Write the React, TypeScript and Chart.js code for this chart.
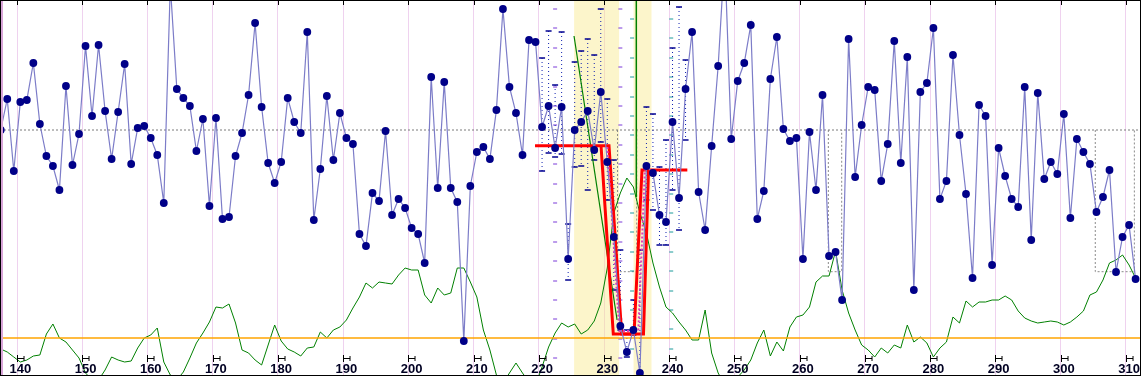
import React, { useEffect, useRef } from 'react';
import { Chart, registerables } from 'chart.js';

Chart.register(...registerables);

// ---------- data ----------
const FIRST_X = 137;
const blueValues = [
  130, 99, 171,
  102, 100, 63, 124, 156, 166, 190, 86, 165, 134,
  46, 116, 45, 111, 159, 112, 64, 164, 128, 126,
  138, 155, 203, -15, 89, 98, 106, 151, 119, 206,
  118, 219, 217, 156, 133, 95, 23, 107, 163, 183,
  162, 98, 122, 133, 32, 220, 169, 96, 160, 113,
  138, 144, 234, 246, 193, 201, 131, 215, 199, 208,
  228, 234, 263, 77, 188, 82, 188, 202, 341, 186,
  152, 147, 159, 110, 9, 87, 113, 155, 40, 42,
  127, 106, 148, 107, 259, 130, 122, 111, 150, 92,
  162, 237, 326, 352, 330, 373, 166, 173, 215, 222,
  122, 198, 89, 32, 192, 230, 146, 66, -45, 139,
  81, 63, 25, 219, 191, 79, 37, 129, 141, 138,
  259, 132, 190, 95, 256, 252, 300, 39, 177, 125,
  87, 90, 181, 144, 41, 163, 57, 290, 92, 83,
  28, 199, 181, 55, 135, 194, 278, 105, 116, 265,
  148, 176, 199, 207, 87, 240, 93, 179, 162, 174,
  114, 218, 139, 152, 164, 212, 197, 170, 272, 237,
  225, 279,
];
const greenValues = [
  349, 352, 357,
  362, 360, 356, 355, 334, 324, 338, 342, 350, 358,
  373, 380, 380, 370, 357, 360, 362, 361, 348, 338,
  335, 328, 362, 375, 380, 372, 358, 343, 333, 322,
  307, 308, 304, 323, 350, 353, 360, 365, 345, 325,
  341, 349, 352, 356, 348, 347, 332, 338, 330, 327,
  320, 308, 297, 283, 288, 282, 283, 284, 275, 268,
  270, 270, 295, 303, 288, 295, 293, 268, 268, 282,
  297, 330, 350, 375, 383, 373, 363, 373, 382, 385,
  367, 347, 333, 323, 327, 324, 334, 330, 321, 303,
  268, 213, 193, 178, 187, 213, 233, 263, 287, 307,
  313, 322, 330, 340, 340, 310, 353, 373, 385, 385,
  377, 370, 360, 343, 330, 356, 342, 351, 327, 317,
  315, 307, 282, 276, 276, 251, 290, 313, 330, 345,
  350, 357, 348, 353, 345, 348, 325, 342, 337, 343,
  357, 348, 342, 317, 323, 301, 307, 302, 302, 300,
  300, 296, 300, 311, 318, 321, 323, 322, 321, 322,
  325, 322, 317, 311, 295, 292, 280, 263, 260, 255,
  265, 278,
];
const tickLabels = ['140', '150', '160', '170', '180', '190', '200', '210', '220', '230', '240', '250', '260', '270', '280', '290', '300', '310'];

const X_MIN = 136.887;
const X_MAX = 311.83;
const meanLevel = 130;
const limitLevel = 338;

const bandStarts = [224.9, 233.99];
const bandEnds = [231.84, 236.81];

const rectStarts = [231.57, 263.89, 304.82];
const rectEnds = [234.51, 265.94, 310.81];
const rectBottom = 271.7;

const redOuterX = [218.92, 230.26, 232.21, 234.1, 235.32, 242.27];
const redOuterY = [145.7, 145.7, 334, 334, 170, 170];
const redInnerX = [229.04, 230.92, 235.55, 236.32];
const redInnerY = [145.7, 334, 334, 170];
const magentaX = [230.0, 231.85, 234.76, 235.78];
const magentaY = [147, 331, 331, 167];

const trendX = [224.9, 231.5];
const trendY = [36, 320];
const markerX = [234.45, 234.45];
const markerY = [-5, 197];

const rangeX = [220, 221, 222, 223, 224, 225, 226, 227, 228, 229, 230, 231, 232, 233, 234, 235, 236, 237, 238, 239, 240, 241, 242];
const rangeTop = [58, 31, 85, 32, 224, 62, 51, 39, 55, 9, 99, 160, 250, 330, 300, 250, 107, 114, 167, 140, 48, 7, 60];
const rangeBottom = [171, 153, 157, 154, 280, 167, 166, 190, 160, 142, 200, 290, 330, 357, 335, 372, 200, 210, 245, 245, 190, 230, 140];

const purpleColumns = [222, 232];
const purpleDashes = [9, 28, 48, 67, 87, 106, 125, 145, 164, 184, 203, 222, 242, 261, 281, 300, 319, 339, 358];
const tealColumns = [233.8, 239.8];
const tealDashes = [19, 38, 58, 77, 97, 116, 135, 155, 174, 194, 213, 232, 252, 271, 291, 310, 329, 349];

// ---------- helpers ----------
const pts = (xs: number[], ys: number[]) => xs.map((x, i) => ({ x, y: ys[i] }));

const framePlugin = {
  id: 'frame',
  afterDraw(chart: any) {
    const ctx: CanvasRenderingContext2D = chart.ctx;
    const xs = chart.scales.x;
    const { top, bottom, left } = chart.chartArea;
    ctx.save();
    ctx.fillStyle = '#d8a4d8';
    ctx.fillRect(left, top, 3, bottom - top);
    ctx.strokeStyle = '#000';
    ctx.lineWidth = 1;
    ctx.font = 'bold 13px "Liberation Sans", Arial, sans-serif';
    ctx.textAlign = 'center';
    ctx.textBaseline = 'middle';
    ctx.fillStyle = '#000022';
    for (const lab of tickLabels) {
      const v = Number(lab);
      const gx = Math.round(xs.getPixelForValue(v - 0.5)) + 0.5;
      const step = xs.getPixelForValue(v + 0.5) - xs.getPixelForValue(v - 0.5);
      ctx.beginPath();
      ctx.moveTo(gx, top);
      ctx.lineTo(gx, top + 5);
      ctx.moveTo(gx, bottom - 21);
      ctx.lineTo(gx, bottom - 14);
      ctx.moveTo(gx, bottom - 17.5);
      ctx.lineTo(gx + step, bottom - 17.5);
      ctx.moveTo(gx + step, bottom - 20);
      ctx.lineTo(gx + step, bottom - 15);
      ctx.stroke();
      ctx.fillText(lab, xs.getPixelForValue(v), bottom - 7);
    }
    ctx.strokeRect(0.5, 0.5, chart.width - 1, chart.height - 1);
    ctx.restore();
  },
};

export default function App() {
  const ref = useRef<HTMLCanvasElement>(null);
  useEffect(() => {
    document.body.style.margin = '0';
    const xValues = blueValues.map((_, i) => FIRST_X + i);
    const rangeData: any[] = [];
    rangeX.forEach((x, i) => {
      rangeData.push({ x, y: rangeTop[i] }, { x, y: rangeBottom[i] }, { x, y: null });
    });
    const dashData = (cols: number[], ys: number[]) => {
      const out: any[] = [];
      cols.forEach((x) => ys.forEach((y) => out.push({ x, y })));
      return out;
    };
    const base = { pointRadius: 0, borderWidth: 1, fill: false, tension: 0 };
    const datasets: any[] = [];
    bandStarts.forEach((s, i) => {
      datasets.push({
        ...base,
        data: [{ x: s, y: -2 }, { x: bandEnds[i], y: -2 }],
        borderWidth: 0,
        borderColor: 'rgba(0,0,0,0)',
        backgroundColor: 'rgba(248,232,140,0.45)',
        fill: { value: 380 },
        order: 100,
      });
    });
    rectStarts.forEach((s, i) => {
      datasets.push({
        ...base,
        data: [{ x: s, y: meanLevel }, { x: s, y: rectBottom }, { x: rectEnds[i], y: rectBottom }, { x: rectEnds[i], y: meanLevel }],
        borderColor: '#8a8a8a',
        borderDash: [2, 2],
        order: 90,
      });
    });
    datasets.push({
      ...base,
      data: [{ x: X_MIN, y: meanLevel }, { x: X_MAX, y: meanLevel }],
      borderColor: '#7a7a7a',
      borderDash: [2, 2],
      order: 85,
    });
    datasets.push({
      ...base,
      showLine: false,
      data: dashData(purpleColumns, purpleDashes),
      pointStyle: 'line',
      pointRadius: 2,
      pointBorderWidth: 1,
      pointBorderColor: '#7a3ad8',
      order: 80,
    });
    datasets.push({
      ...base,
      showLine: false,
      data: dashData(tealColumns, tealDashes),
      pointStyle: 'line',
      pointRadius: 2,
      pointBorderWidth: 1,
      pointBorderColor: '#1a9a9a',
      order: 80,
    });
    datasets.push({
      ...base,
      data: rangeData,
      spanGaps: false,
      borderColor: '#1020b0',
      borderDash: [1, 3],
      pointStyle: 'line',
      pointRadius: 3,
      pointBorderWidth: 1.5,
      pointBorderColor: '#000090',
      order: 70,
    });
    datasets.push({
      ...base,
      data: pts(xValues, greenValues),
      borderColor: '#008000',
      order: 60,
    });
    datasets.push({
      ...base,
      data: pts(trendX, trendY),
      borderColor: '#008000',
      borderWidth: 1.2,
      order: 60,
    });
    datasets.push({
      ...base,
      data: pts(markerX, markerY),
      borderColor: '#008000',
      borderWidth: 1.5,
      order: 60,
    });
    datasets.push({
      ...base,
      data: [{ x: X_MIN, y: limitLevel }, { x: X_MAX, y: limitLevel }],
      borderColor: '#ffa500',
      borderWidth: 1.5,
      order: 55,
    });
    datasets.push({
      ...base,
      data: pts(redOuterX, redOuterY),
      borderColor: '#ff0000',
      borderWidth: 3,
      borderJoinStyle: 'miter',
      order: 40,
    });
    datasets.push({
      ...base,
      data: pts(redInnerX, redInnerY),
      borderColor: '#ff0000',
      borderWidth: 3,
      borderJoinStyle: 'miter',
      order: 40,
    });
    datasets.push({
      ...base,
      data: pts(magentaX, magentaY),
      borderColor: '#e23cb8',
      borderWidth: 2,
      borderDash: [2, 2],
      order: 35,
    });
    datasets.push({
      ...base,
      data: pts(xValues, blueValues),
      borderColor: '#7c7cc8',
      borderWidth: 1.2,
      pointRadius: 3.9,
      pointBorderWidth: 0,
      pointBackgroundColor: '#000088',
      order: 0,
    });

    const chart = new Chart(ref.current as HTMLCanvasElement, {
      type: 'line',
      data: { datasets },
      options: {
        animation: false,
        responsive: false,
        devicePixelRatio: 1,
        layout: { padding: 0, autoPadding: false },
        plugins: { legend: { display: false }, tooltip: { enabled: false } },
        events: [],
        scales: {
          x: {
            type: 'linear',
            position: 'top',
            min: X_MIN,
            max: X_MAX,
            afterBuildTicks: (scale: any) => {
              scale.ticks = tickLabels.map((l) => ({ value: Number(l) - 0.5 }));
            },
            ticks: { display: false },
            grid: { color: '#efd2ef', lineWidth: 1, drawTicks: false },
            border: { display: false },
          },
          y: {
            display: false,
            reverse: true,
            min: 0,
            max: 376,
          },
        },
      },
      plugins: [framePlugin],
    } as any);
    return () => chart.destroy();
  }, []);
  return <canvas ref={ref} width={1141} height={376} style={{ display: 'block' }} />;
}
